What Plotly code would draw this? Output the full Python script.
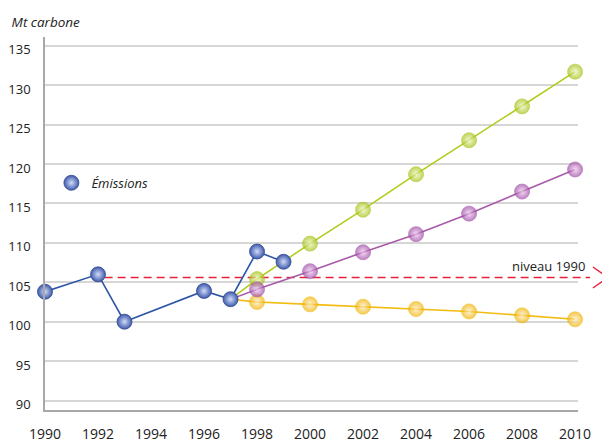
import plotly.graph_objects as go

# ---- data ----
YEARS_EMIS = [1990, 1992, 1993, 1996, 1997, 1998, 1999]
EMISSIONS = [103.8, 106.0, 100.0, 103.9, 102.85, 108.9, 107.6]

YEARS_SCEN = [1997, 1998, 2000, 2002, 2004, 2006, 2008, 2010]
SCEN_GREEN = [102.85, 105.4, 109.9, 114.2, 118.7, 123.0, 127.3, 131.7]
SCEN_PURPLE = [102.85, 104.1, 106.4, 108.8, 111.1, 113.7, 116.5, 119.3]
SCEN_YELLOW = [102.85, 102.5, 102.2, 101.9, 101.6, 101.3, 100.8, 100.3]

NIVEAU_1990 = 105.6
NIVEAU_START = 1992.25

X_TICKS = list(range(1990, 2011, 2))
Y_TICKS = list(range(90, 136, 5))

X_RANGE = [1990, 2010.11]
Y_RANGE = [88.8, 136.1]

FONT = "Open Sans"

fig = go.Figure()

def scen(y, edge, center, line):
    sizes = [0] + [15] * (len(y) - 1)
    fig.add_trace(go.Scatter(
        x=YEARS_SCEN, y=y, mode="lines+markers", showlegend=False,
        cliponaxis=False,
        line=dict(color=line, width=1.6),
        marker=dict(size=sizes, color=edge,
                    gradient=dict(type="radial", color=center),
                    line=dict(color=edge, width=0.8)),
        hoverinfo="x+y"))

scen(SCEN_YELLOW, "#f0b400", "#ffeccc", "#f2bc10")
scen(SCEN_GREEN, "#a4c010", "#eef8c8", "#b2cc1c")
scen(SCEN_PURPLE, "#9e4aa4", "#f2d0f2", "#a85aa8")

EMIS_MARKER = dict(size=15, color="#3f5aac",
                   gradient=dict(type="radial", color="#d0dcf8"),
                   line=dict(color="#30498f", width=0.8))

fig.add_trace(go.Scatter(
    x=YEARS_EMIS, y=EMISSIONS, mode="lines+markers", name="Émissions",
    legendgroup="emis", showlegend=False, cliponaxis=False,
    line=dict(color="#2c55a6", width=1.6), marker=EMIS_MARKER))
# legend entry (marker only)
fig.add_trace(go.Scatter(
    x=[None], y=[None], mode="markers", name="Émissions",
    legendgroup="emis", showlegend=True, marker=EMIS_MARKER))

# dashed reference line extending past the plot area (paper coords)
xspan = X_RANGE[1] - X_RANGE[0]
yspan = Y_RANGE[1] - Y_RANGE[0]
px0 = (NIVEAU_START - X_RANGE[0]) / xspan
py = (NIVEAU_1990 - Y_RANGE[0]) / yspan
dy = 1.33 / yspan
fig.add_shape(type="line", xref="paper", yref="paper", x0=px0, x1=1.0225,
              y0=py, y1=py, layer="between",
              line=dict(color="#e8203a", width=1.7, dash="8px,5px"))
fig.add_shape(type="path", xref="paper", yref="paper", layer="between",
              path=f"M 1.028 {py + dy} L 1.056 {py} L 1.028 {py - dy}",
              line=dict(color="#e8203a", width=1.4))
fig.add_annotation(xref="paper", yref="paper", x=1.017, y=py,
                   xanchor="right", yanchor="bottom", yshift=1,
                   text="niveau 1990", showarrow=False,
                   font=dict(family=FONT, size=13, color="#222222"))

# page body has an 8px default margin, so the figure is 602x434
fig.update_layout(
    width=602, height=434,
    margin=dict(l=37, r=32, t=29, b=32, autoexpand=False),
    paper_bgcolor="white", plot_bgcolor="white",
    font=dict(family=FONT, color="#222222"),
    title=dict(text="Mt carbone", xref="container", yref="container",
               x=0.006, xanchor="left", y=0.968, yanchor="middle",
               font=dict(family=FONT, size=13.5, style="italic", color="#222222")),
    showlegend=True,
    legend=dict(x=0.012, y=0.609, xanchor="left", yanchor="middle",
                bgcolor="rgba(0,0,0,0)", itemwidth=30,
                font=dict(family=FONT, size=13, style="italic", color="#222222")),
    xaxis=dict(range=X_RANGE, tickvals=X_TICKS, showgrid=False, zeroline=False,
               automargin=False,
               showline=True, linecolor="#a8a8a8", linewidth=1.5,
               ticks="", ticklabelstandoff=10,
               tickfont=dict(family=FONT, size=14, color="#222222")),
    yaxis=dict(range=Y_RANGE, tickvals=Y_TICKS, showgrid=True, automargin=False,
               gridcolor="#d6d6d6", gridwidth=1.5, zeroline=False,
               showline=True, linecolor="#a8a8a8", linewidth=1.5,
               ticks="", ticklabelstandoff=10, ticklabelshift=4,
               tickfont=dict(family=FONT, size=13, color="#222222")),
)

fig.write_html("out.html")
